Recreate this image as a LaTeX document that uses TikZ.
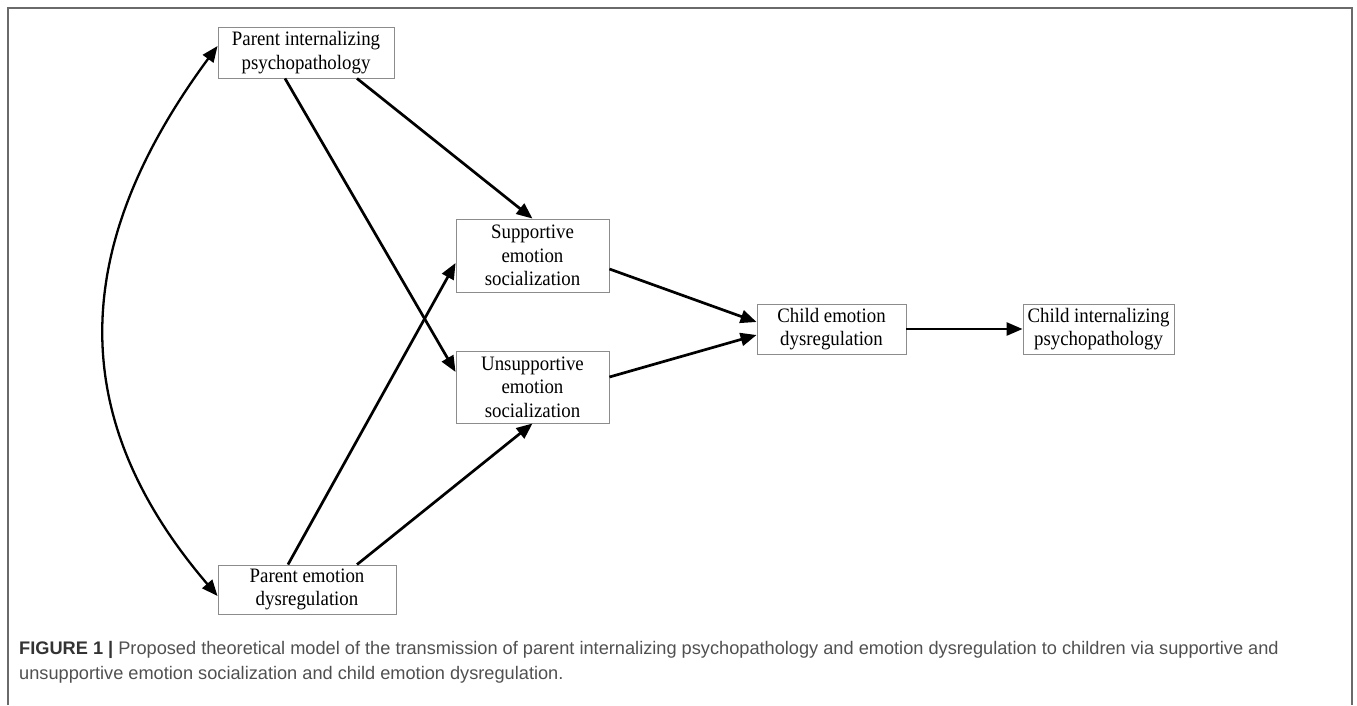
\documentclass[tikz,border=0pt]{standalone}
\usepackage{fontspec}
\setmainfont{Liberation Serif}[FakeStretch=0.92]
\newfontfamily\capfont{Liberation Sans}
\usetikzlibrary{arrows.meta}
\definecolor{boxgray}{HTML}{8C8C8C}
\definecolor{framegray}{HTML}{6A6A6A}
\definecolor{capdark}{HTML}{333333}
\definecolor{captext}{HTML}{505050}
\tikzset{
  varbox/.style={draw=boxgray, line width=0.9pt, fill=white, inner sep=0pt, align=center,
    font=\fontsize{20.5}{23.5}\selectfont},
  path arrow/.style={line width=2.7pt, -{Triangle[length=16pt,width=13pt]}},
  both arrow/.style={line width=2.3pt, {Triangle[length=16pt,width=13pt]}-{Triangle[length=16pt,width=13pt]}},
  captionline/.style={anchor=base west, inner sep=0pt, font=\capfont\fontsize{18.2}{25}\selectfont, text=captext}
}
\begin{document}
\begin{tikzpicture}[x=1pt,y=-1pt]
\useasboundingbox (0,0) rectangle (1357,705);
\draw[framegray, line width=1.4pt] (8,705) -- (8,8) -- (1352,8) -- (1352,705);

\node[varbox, minimum width=176pt, minimum height=51pt] (pi) at (306,52.5) {Parent internalizing\\psychopathology};
\node[varbox, minimum width=178pt, minimum height=49pt] (pe) at (307,589.5) {Parent emotion\\dysregulation};
\node[varbox, minimum width=153pt, minimum height=73pt] (sup) at (532.5,255.5) {Supportive\\emotion\\socialization};
\node[varbox, minimum width=153pt, minimum height=72pt] (uns) at (532.5,387) {Unsupportive\\emotion\\socialization};
\node[varbox, minimum width=149pt, minimum height=50pt] (ced) at (831.5,329) {Child emotion\\dysregulation};
\node[varbox, minimum width=151pt, minimum height=50pt] (ci) at (1098.5,329) {Child internalizing\\psychopathology};

\draw[both arrow] ([yshift=-6.5pt]pe.west) .. controls (67,420) and (67,250) .. ([yshift=6.5pt]pi.west);

\draw[path arrow] ([xshift=51pt]pi.south) -- (sup.north);
\draw[path arrow] ([xshift=-21pt]pi.south) -- ([yshift=15pt]uns.west);
\draw[path arrow] ([xshift=-19pt]pe.north) -- ([yshift=-7.5pt]sup.west);
\draw[path arrow] ([xshift=50pt]pe.north) -- (uns.south);
\draw[path arrow] ([yshift=-13.5pt]sup.east) -- ([yshift=7pt]ced.west);
\draw[path arrow] ([yshift=10pt]uns.east) -- ([yshift=-6pt]ced.west);
\draw[path arrow] (ced.east) -- (ci.west);

\node[captionline] (cap1) at (19,654) {{\bfseries\color{capdark}FIGURE 1 |} Proposed theoretical model of the transmission of parent internalizing psychopathology and emotion dysregulation to children via supportive and};
\node[captionline] (cap2) at (19,679) {unsupportive emotion socialization and child emotion dysregulation.};
\end{tikzpicture}
\end{document}
